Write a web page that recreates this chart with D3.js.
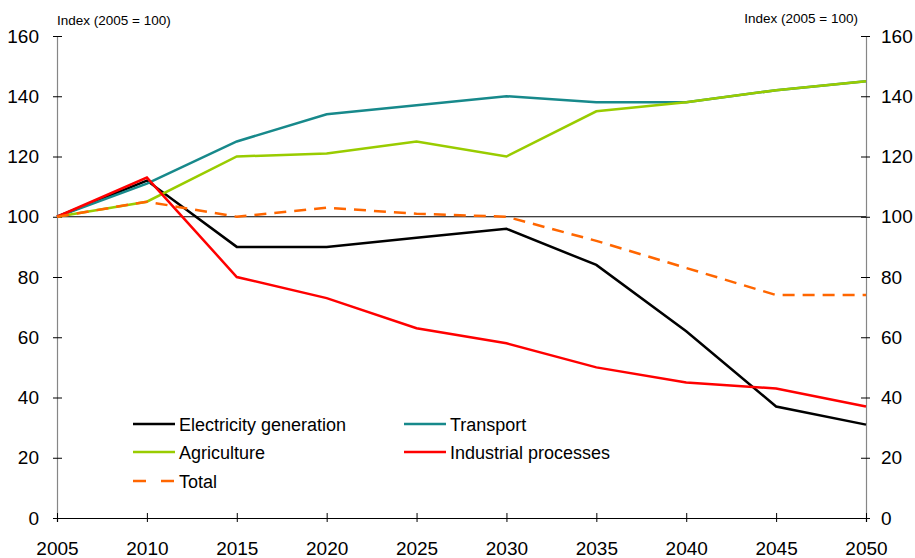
<!DOCTYPE html>
<html><head><meta charset="utf-8">
<script src="https://d3js.org/d3.v7.min.js"></script>
<style>body{margin:0;background:#fff}</style>
</head><body>
<svg width="915" height="558"></svg>
<script>
const years = [2005, 2010, 2015, 2020, 2025, 2030, 2035, 2040, 2045, 2050]
const electricity = [100, 112, 90, 90, 93, 96, 84, 62, 37, 31]
const transport = [100, 111, 125, 134, 137, 140, 138, 138, 142, 145]
const agriculture = [100, 105, 120, 121, 125, 120, 135, 138, 142, 145]
const industrial = [100, 113, 80, 73, 63, 58, 50, 45, 43, 37]
const total = [100, 105, 100, 103, 101, 100, 92, 83, 74, 74]
const yTicks = [0, 20, 40, 60, 80, 100, 120, 140, 160]
const axisTitle = "Index (2005 = 100)"

const series = [
  {name: "Electricity generation", values: electricity, color: "#000000"},
  {name: "Transport", values: transport, color: "#17898b"},
  {name: "Agriculture", values: agriculture, color: "#99cc00"},
  {name: "Industrial processes", values: industrial, color: "#ff0000"},
  {name: "Total", values: total, color: "#ff6600", dash: "12,8"}
]

const font = "'Liberation Sans', Arial, sans-serif"
const svg = d3.select("svg")
const plotLeft = 57, plotRight = 866, plotTop = 36, plotBottom = 518

const x = d3.scaleLinear().domain([2005, 2050]).range([plotLeft, plotRight])
const y = d3.scaleLinear().domain([0, 160]).range([plotBottom, plotTop])

// axes
const leftAxis = svg.append("g").attr("transform", `translate(${plotLeft},0)`)
  .call(d3.axisLeft(y).tickValues(yTicks).tickSize(4).tickPadding(14))
const rightAxis = svg.append("g").attr("transform", `translate(${plotRight},0)`)
  .call(d3.axisRight(y).tickValues(yTicks).tickSize(4).tickPadding(11))
const bottomAxis = svg.append("g").attr("transform", `translate(0,${plotBottom})`)
  .call(d3.axisBottom(x).tickValues(years).tickFormat(d3.format("d")).tickSize(4).tickPadding(20))

;[leftAxis, rightAxis, bottomAxis].forEach(g => {
  g.select(".domain").attr("stroke", "#868686").attr("stroke-width", 1.2)
  g.selectAll(".tick line").attr("stroke", "#000")
  g.selectAll(".tick text").attr("font-family", font).attr("font-size", 19).attr("fill", "#000")
})
leftAxis.selectAll(".tick line").attr("x1", 5)
rightAxis.selectAll(".tick line").attr("x1", -5)
bottomAxis.selectAll(".tick line").attr("y1", -5)
bottomAxis.select(".domain").attr("stroke", "#000")

// reference line at 100
svg.append("line")
  .attr("x1", plotLeft).attr("x2", plotRight)
  .attr("y1", y(100)).attr("y2", y(100))
  .attr("stroke", "#000").attr("stroke-width", 1)

const line = d3.line().x((d, i) => x(years[i])).y(d => y(d))

svg.append("g").selectAll("path")
  .data(series)
  .join("path")
    .attr("d", d => line(d.values))
    .attr("fill", "none")
    .attr("stroke", d => d.color)
    .attr("stroke-width", 2.5)
    .attr("stroke-dasharray", d => d.dash || null)

// axis titles
svg.append("text").attr("x", plotLeft).attr("y", 25)
  .attr("font-family", font).attr("font-size", 13.5).text(axisTitle)
svg.append("text").attr("x", 858).attr("y", 23).attr("text-anchor", "end")
  .attr("font-family", font).attr("font-size", 13.5).text(axisTitle)

// legend
const legendPos = [[133, 424], [404, 424], [133, 452], [404, 452], [133, 481]]
const legend = svg.append("g").selectAll("g")
  .data(series)
  .join("g")
    .attr("transform", (d, i) => `translate(${legendPos[i][0]},${legendPos[i][1]})`)
legend.append("line")
  .attr("x1", 0).attr("x2", 42)
  .attr("stroke", d => d.color).attr("stroke-width", 2.5)
  .attr("stroke-dasharray", d => d.dash ? "13,15" : null)
legend.append("text")
  .attr("x", 46).attr("y", 6.5)
  .attr("font-family", font).attr("font-size", 18)
  .text(d => d.name)
</script>
</body></html>
